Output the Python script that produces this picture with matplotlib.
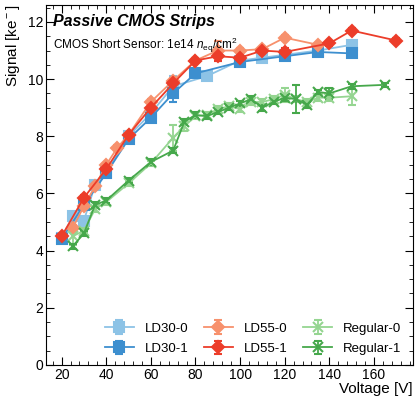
import numpy as np
import matplotlib.pyplot as plt
from matplotlib.ticker import MultipleLocator

plt.rcParams['font.family'] = ['Liberation Sans', 'DejaVu Sans']
plt.rcParams['mathtext.fontset'] = 'custom'
plt.rcParams['mathtext.rm'] = 'Liberation Sans'
plt.rcParams['mathtext.it'] = 'Liberation Sans:italic'

# LD30 (squares)
ld30_0_v = [20, 25, 30, 35, 40, 50, 60, 70, 85, 100, 110, 120, 135, 150]
ld30_0_s = [4.45, 5.2, 5.05, 6.3, 6.75, 8.0, 8.8, 9.75, 10.1, 10.65, 10.75, 10.85, 11.0, 11.2]
ld30_0_e = [0.08, 0.1, 0.1, 0.08, 0.08, 0.08, 0.1, 0.35, 0.1, 0.08, 0.08, 0.08, 0.1, 0.1]
ld30_1_v = [20, 30, 40, 50, 60, 70, 80, 100, 120, 135, 150]
ld30_1_s = [4.4, 5.6, 6.7, 7.9, 8.65, 9.5, 10.2, 10.6, 10.8, 10.95, 10.9]
ld30_1_e = [0.08, 0.08, 0.08, 0.08, 0.1, 0.3, 0.08, 0.08, 0.08, 0.15, 0.08]

# LD55 (diamonds)
ld55_0_v = [25, 30, 35, 40, 45, 50, 60, 70, 80, 90, 100, 110, 120, 135]
ld55_0_s = [4.8, 5.55, 6.25, 7.0, 7.6, 8.05, 9.2, 9.95, 10.65, 11.0, 11.0, 11.05, 11.45, 11.2]
ld55_0_e = [0.08, 0.08, 0.08, 0.08, 0.08, 0.08, 0.1, 0.1, 0.08, 0.35, 0.08, 0.08, 0.08, 0.08]
ld55_1_v = [20, 30, 40, 50, 60, 70, 80, 90, 100, 110, 120, 140, 150, 170]
ld55_1_s = [4.5, 5.85, 6.85, 8.05, 9.0, 9.85, 10.65, 10.8, 10.75, 11.0, 10.95, 11.25, 11.7, 11.35]
ld55_1_e = [0.08, 0.08, 0.08, 0.08, 0.08, 0.1, 0.08, 0.15, 0.08, 0.08, 0.15, 0.08, 0.08, 0.08]

# Regular (crosses)
reg_0_v = [25, 30, 35, 40, 50, 60, 70, 75, 80, 85, 90, 95, 100, 105, 110, 115, 120, 125, 130, 135, 140, 150]
reg_0_s = [4.5, 4.7, 5.45, 5.7, 6.35, 7.05, 7.95, 8.35, 8.7, 8.75, 8.95, 9.05, 8.95, 9.2, 9.2, 9.3, 9.45, 9.3, 9.2, 9.35, 9.35, 9.4]
reg_0_e = [0.3, 0.1, 0.1, 0.1, 0.1, 0.1, 0.45, 0.15, 0.1, 0.1, 0.1, 0.1, 0.1, 0.1, 0.1, 0.1, 0.25, 0.1, 0.1, 0.1, 0.1, 0.3]
reg_1_v = [25, 30, 35, 40, 50, 60, 70, 75, 80, 85, 90, 95, 100, 105, 110, 115, 120, 125, 130, 135, 140, 150, 165]
reg_1_s = [4.15, 4.6, 5.6, 5.75, 6.45, 7.1, 7.5, 8.5, 8.75, 8.7, 8.85, 9.0, 9.15, 9.3, 9.0, 9.2, 9.35, 9.3, 9.1, 9.55, 9.5, 9.75, 9.8]
reg_1_e = [0.08, 0.1, 0.1, 0.1, 0.1, 0.1, 0.1, 0.1, 0.1, 0.08, 0.08, 0.08, 0.1, 0.1, 0.1, 0.08, 0.1, 0.5, 0.1, 0.08, 0.2, 0.08, 0.08]

series = [
    ('LD30-0', ld30_0_v, ld30_0_s, ld30_0_e, '#8dc3e6', 's'),
    ('LD30-1', ld30_1_v, ld30_1_s, ld30_1_e, '#3d8fcf', 's'),
    ('LD55-0', ld55_0_v, ld55_0_s, ld55_0_e, '#f7916d', 'D'),
    ('LD55-1', ld55_1_v, ld55_1_s, ld55_1_e, '#ec3d2a', 'D'),
    ('Regular-0', reg_0_v, reg_0_s, reg_0_e, '#95d591', 'x'),
    ('Regular-1', reg_1_v, reg_1_s, reg_1_e, '#46a84b', 'x'),
]

fig = plt.figure(figsize=(4.18, 4.01), dpi=100)
ax = fig.add_axes([0.110, 0.090, 0.878, 0.898])

for name, v, s, e, c, m in series:
    ax.errorbar(v, s, yerr=e, color=c, marker=m, markersize=6.5, lw=1.3,
                capsize=3, elinewidth=1.3, mew=1.5, label=name)

ax.set_xlim(13, 177.5)
ax.set_ylim(0, 12.6)
ax.xaxis.set_major_locator(MultipleLocator(20))
ax.xaxis.set_minor_locator(MultipleLocator(4))
ax.yaxis.set_major_locator(MultipleLocator(2))
ax.yaxis.set_minor_locator(MultipleLocator(0.5))
ax.tick_params(which='both', direction='in', top=True, right=True, labelsize=10)
ax.tick_params(which='major', length=6, pad=2)
ax.tick_params(which='minor', length=3)

ax.set_xlabel('Voltage [V]', loc='right', fontsize=11, labelpad=0)
ax.set_ylabel('Signal [ke$^-$]', loc='top', fontsize=11, labelpad=4)

ax.text(0.02, 0.975, 'Passive CMOS Strips', transform=ax.transAxes,
        fontsize=11.5, fontweight='bold', fontstyle='italic', va='top')
ax.text(0.02, 0.915, 'CMOS Short Sensor: 1e14 $n_{\\mathrm{eq}}$/cm$^2$',
        transform=ax.transAxes, fontsize=8.5, va='top')

ax.legend(ncol=3, loc='lower right', bbox_to_anchor=(1.0, -0.005), frameon=False,
          fontsize=9.5, handlelength=2.2, columnspacing=1.2, labelspacing=0.6)

fig.savefig('out.png', dpi=100)
